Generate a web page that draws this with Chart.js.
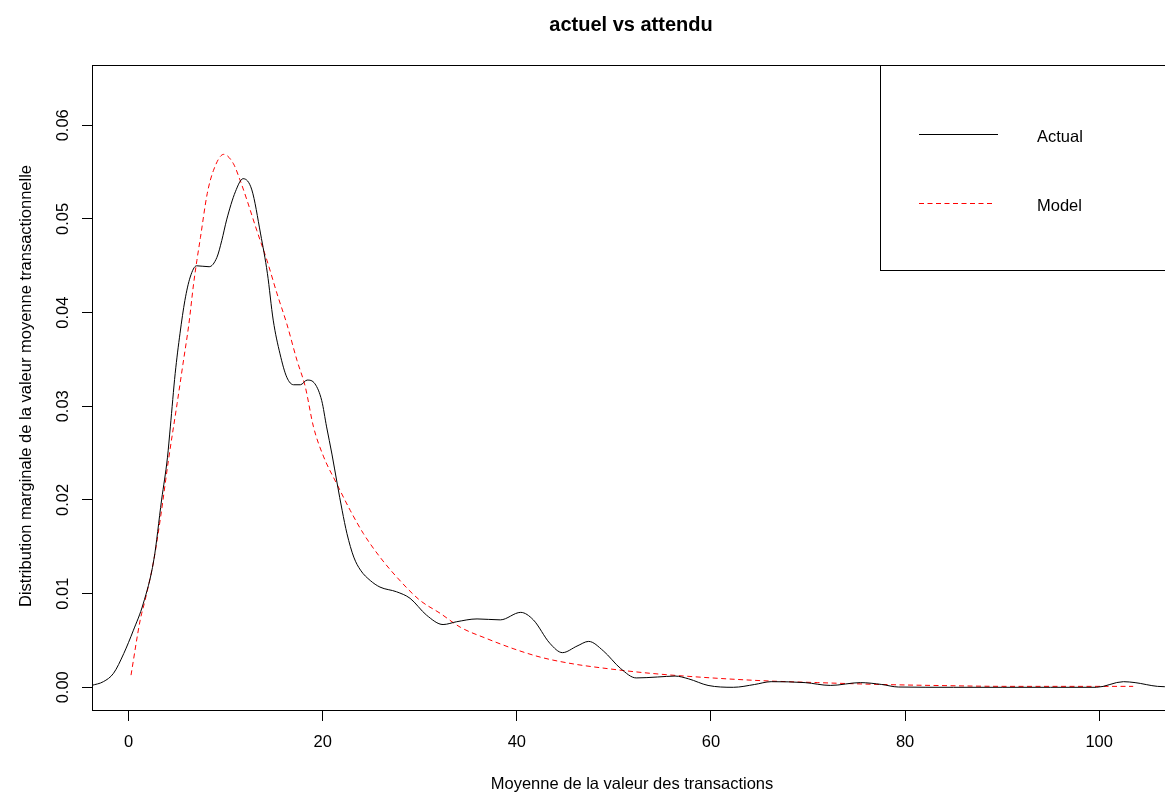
<!DOCTYPE html>
<html>
<head>
<meta charset="utf-8">
<title>actuel vs attendu</title>
<script src="https://cdn.jsdelivr.net/npm/chart.js@4.4.1/dist/chart.umd.min.js"></script>
<style>
  html, body { margin: 0; padding: 0; background: #fff; overflow: hidden; }
  #wrap { width: 1165px; height: 792px; overflow: hidden; }
  canvas { display: block; }
</style>
</head>
<body>
<div id="wrap"><canvas id="chart" width="1180" height="792"></canvas></div>
<script>
// texts
const chartTitle = 'actuel vs attendu';
const xTitle = 'Moyenne de la valeur des transactions';
const yTitle = 'Distribution marginale de la valeur moyenne transactionnelle';
const seriesNames = ['Actual', 'Model'];
const seriesColors = ['#000000', '#ff0000'];

// axis ranges and ticks
const xRange = [-3.77, 107.5];
const yRange = [-0.00253, 0.06633];
const xStep = 20;
const yStep = 0.01;

const actualX = [-3.8, -2.6, -1.55, -0.5, 0.5, 1.5, 2.6, 3.4, 4.0, 4.3, 4.8, 5.3, 5.8, 6.35, 7.0,
  8.3, 9.1, 9.6, 10.1, 11.0, 11.8, 12.7, 13.6, 14.3, 14.9, 15.6, 16.3, 17.0, 17.7, 18.4, 19.2,
  19.9, 20.4, 20.95, 21.5, 22.0, 22.5, 23.2, 23.9, 24.9, 25.9, 27.6, 29.0, 30.7, 32.4, 33.8,
  35.9, 38.3, 40.4, 41.7, 43.4, 44.7, 46.2, 47.4, 48.9, 50.7, 52.3, 54.5, 56.3, 57.7, 59.7,
  62.3, 64.5, 66.2, 69.7, 72.3, 75.4, 77.6, 79.3, 85, 90, 95, 99.7, 102.5, 103.7, 106, 107.5];
const actualY = [0.0002, 0.0006, 0.0015, 0.0036, 0.0061, 0.0089, 0.0136, 0.0200, 0.0245, 0.0278,
  0.0335, 0.0378, 0.0413, 0.0438, 0.0450, 0.0449, 0.0459, 0.0477, 0.0499, 0.0529, 0.0543,
  0.0531, 0.0484, 0.0442, 0.0392, 0.0356, 0.0331, 0.0323, 0.0323, 0.0328, 0.0324, 0.0306,
  0.0278, 0.0249, 0.0217, 0.0189, 0.0164, 0.0139, 0.0125, 0.0114, 0.0107, 0.0102, 0.0095,
  0.0077, 0.0067, 0.0070, 0.0073, 0.0072, 0.0080, 0.0072, 0.0047, 0.0037, 0.0044, 0.0049,
  0.0039, 0.0020, 0.0010, 0.0011, 0.0012, 0.0009, 0.0002, 0.0000, 0.0003, 0.0006, 0.0005,
  0.0002, 0.0005, 0.0003, 0.00003, 0, 0, 0, 0, 0.0006, 0.0005, 0.0001, 0.00005];

// fitted model
const modelX = [0.25, 1.2, 1.7, 2.6, 3.3, 4.1, 5.0, 5.6, 6.2, 6.7, 7.04, 7.4, 8.1, 8.75, 9.8,
  10.8, 11.5, 12.2, 13.2, 14.25, 15.3, 16.3, 17.35, 18.2, 19.05, 20.1, 21.46, 22.83, 24.2,
  25.9, 27.6, 30.0, 32.1, 34.2, 36.9, 39.7, 42.5, 45.8, 49.3, 53.7, 60.1, 65.4, 71.0, 77.6,
  82.8, 90.7, 99.4, 103.5];
const modelY = [0.0013, 0.0072, 0.0093, 0.0136, 0.0182, 0.0242, 0.0303, 0.0345, 0.0387, 0.0431,
  0.0456, 0.0480, 0.0527, 0.0552, 0.0569, 0.0559, 0.0541, 0.0520, 0.0488, 0.0456, 0.0420,
  0.0388, 0.0349, 0.0321, 0.0278, 0.0246, 0.0217, 0.0189, 0.0164, 0.0139, 0.0118, 0.0093,
  0.0079, 0.0064, 0.0052, 0.0041, 0.0032, 0.0025, 0.0020, 0.0015, 0.0010, 0.0007, 0.0005,
  0.0003, 0.0002, 0.0001, 0.0001, 0.0001];

const FONT = '"Liberation Sans", Arial, sans-serif';

function toPoints(xs, ys) {
  return xs.map((x, i) => ({ x: x, y: ys[i] }));
}

// R-like frame, titles, rotated y labels and the boxed legend
const rDecor = {
  id: 'rDecor',
  afterDraw(chart) {
    const ctx = chart.ctx;
    const a = chart.chartArea;
    const ys = chart.scales.y;
    ctx.save();
    ctx.strokeStyle = '#000';
    ctx.lineWidth = 1;
    ctx.strokeRect(Math.round(a.left) + 0.5, Math.round(a.top) - 0.5,
      Math.round(a.right - a.left), Math.round(a.bottom - a.top));

    ctx.fillStyle = '#000';
    // title
    ctx.font = 'bold 20px ' + FONT;
    ctx.textAlign = 'center';
    ctx.textBaseline = 'alphabetic';
    ctx.fillText(chartTitle, 631, 31);
    // x title
    ctx.font = '16.5px ' + FONT;
    ctx.fillText(xTitle, 632, 789);
    // y title
    ctx.save();
    ctx.translate(31, 386);
    ctx.rotate(-Math.PI / 2);
    ctx.fillText(yTitle, 0, 0);
    ctx.restore();
    // y tick labels
    ys.ticks.forEach(t => {
      const py = ys.getPixelForValue(t.value);
      ctx.save();
      ctx.translate(68, py);
      ctx.rotate(-Math.PI / 2);
      ctx.fillText(t.value.toFixed(2), 0, 0);
      ctx.restore();
    });

    // legend box
    const lx = 880.5, ly = Math.round(a.top) - 0.5;
    ctx.strokeStyle = '#000';
    ctx.strokeRect(lx, ly, 400, 205);
    const rows = [134.5, 203.5];
    const ends = [998, 995];
    const dashes = [[], [5, 3.5]];
    seriesNames.forEach((name, i) => {
      ctx.beginPath();
      ctx.strokeStyle = seriesColors[i];
      ctx.setLineDash(dashes[i]);
      ctx.moveTo(919, rows[i]);
      ctx.lineTo(ends[i], rows[i]);
      ctx.stroke();
      ctx.setLineDash([]);
      ctx.textAlign = 'left';
      ctx.fillStyle = '#000';
      ctx.fillText(name, 1037, rows[i] + 7);
    });
    ctx.restore();
  }
};

new Chart(document.getElementById('chart'), {
  type: 'line',
  data: {
    datasets: [
      {
        label: seriesNames[0],
        data: toPoints(actualX, actualY),
        borderColor: seriesColors[0],
        borderWidth: 1,
        pointRadius: 0,
        cubicInterpolationMode: 'monotone',
        fill: false
      },
      {
        label: seriesNames[1],
        data: toPoints(modelX, modelY),
        borderColor: seriesColors[1],
        borderWidth: 1,
        borderDash: [5, 3.5],
        pointRadius: 0,
        cubicInterpolationMode: 'monotone',
        fill: false
      }
    ]
  },
  options: {
    responsive: false,
    animation: false,
    devicePixelRatio: 1,
    layout: { padding: { left: 0, top: 66, right: 8, bottom: 0 } },
    plugins: {
      legend: { display: false },
      title: { display: false },
      tooltip: { enabled: false }
    },
    scales: {
      x: {
        type: 'linear',
        min: xRange[0],
        max: xRange[1],
        afterFit: s => { s.height = 81; },
        border: { display: false },
        grid: { drawOnChartArea: false, drawTicks: true, tickLength: 10, color: '#000', lineWidth: 1 },
        ticks: {
          stepSize: xStep,
          includeBounds: false,
          color: '#000',
          font: { family: FONT, size: 16.5 },
          padding: 12,
          maxRotation: 0,
          callback: v => String(v)
        }
      },
      y: {
        type: 'linear',
        min: yRange[0],
        max: yRange[1],
        afterFit: s => { s.width = 92; },
        border: { display: false },
        grid: { drawOnChartArea: false, drawTicks: true, tickLength: 10, color: '#000', lineWidth: 1 },
        ticks: {
          stepSize: yStep,
          includeBounds: false,
          display: false
        }
      }
    }
  },
  plugins: [rDecor]
});
</script>
</body>
</html>
